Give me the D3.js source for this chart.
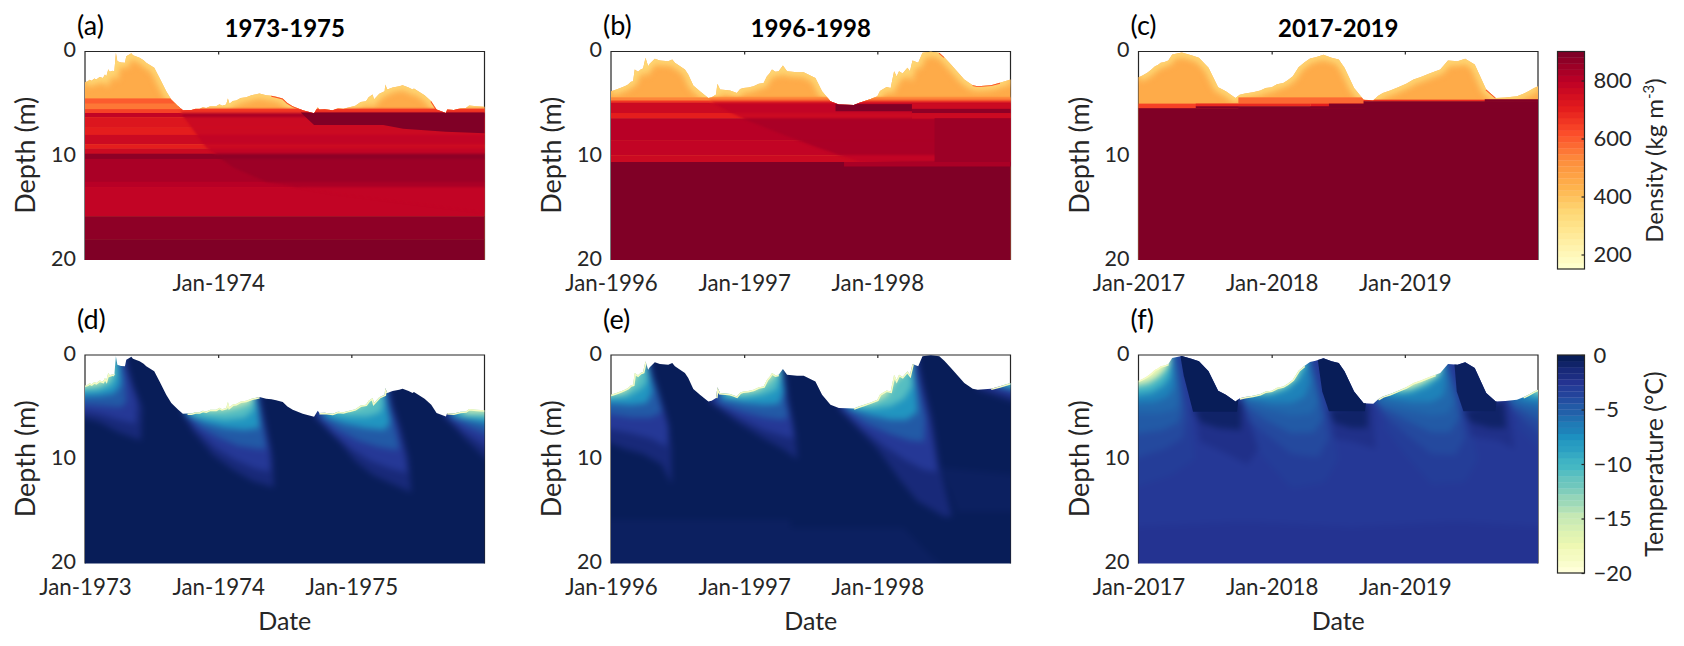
<!DOCTYPE html>
<html><head><meta charset="utf-8">
<script src="https://cdn.jsdelivr.net/npm/d3@7"></script>
<style>html,body{margin:0;padding:0;background:#fff}svg{display:block}text{font-family:Lato,"Open Sans",sans-serif}</style>
</head><body>
<svg id="chart" width="1684" height="646"></svg>
<script>
// ---------- axis content
const yTicks=[0,10,20];
const labelsRow1=[[1974],[1996,1997,1998],[2017,2018,2019]];
const labelsRow2=[[1973,1974,1975],[1996,1997,1998],[2017,2018,2019]];
const tickYearsRow1=[[1974],[1997,1998],[2018,2019]];
const tickYearsRow2=[[1974,1975],[1997,1998],[2018,2019]];
const startYears=[1973,1996,2017];
const titles=["1973-1975","1996-1998","2017-2019"];
const letters=["(a)","(b)","(c)","(d)","(e)","(f)"];
const densityStops=["#ffffcc","#ffeda0","#fed976","#feb24c","#fd8d3c","#fc4e2a","#e31a1c","#bd0026","#800026"];
const tempStops=["#ffffd9","#edf8b1","#c7e9b4","#7fcdbb","#41b6c4","#1d91c0","#225ea8","#253494","#081d58"];
const densityTicks=[200,400,600,800];
const tempTicks=[0,-5,-10,-15,-20];

// ---------- snow surface [years since start, depth m]
const surfaceA=[[0,2.94],[.02,2.85],[.035,2.7],[.05,2.8],[.07,2.6],[.085,2.69],[.11,2.45],[.135,2.55],[.15,2.2],[.16,2.4],[.175,1.7],[.185,1.95],[.21,1.85],[.22,1.95],[.232,.13],[.243,.93],[.27,1.05],[.30,1.09],[.31,.45],[.33,.3],[.348,.16],[.36,.35],[.385,.47],[.41,.61],[.44,.85],[.46,1.09],[.52,1.57],[.56,2.53],[.61,3.81],[.648,4.61],[.70,5.25],[.735,5.63],[.77,5.6],[.80,5.6],[.83,5.5],[.86,5.5],[.885,5.35],[.91,5.41],[.94,5.25],[.985,5.25],[1.01,5.05],[1.03,5.2],[1.06,5.09],[1.073,4.51],[1.085,5.02],[1.11,4.75],[1.135,4.7],[1.17,4.45],[1.21,4.38],[1.25,4.2],[1.31,4.03],[1.36,4.19],[1.40,4.25],[1.435,4.35],[1.485,4.51],[1.52,4.95],[1.56,5.25],[1.635,5.63],[1.72,5.92],[1.748,5.34],[1.76,5.57],[1.80,5.55],[1.86,5.63],[1.90,5.45],[1.94,5.5],[1.985,5.34],[2.03,5.2],[2.07,4.85],[2.11,4.77],[2.13,4.4],[2.16,4.13],[2.17,4.61],[2.21,4.05],[2.25,3.81],[2.255,3.17],[2.27,3.65],[2.31,3.45],[2.36,3.33],[2.385,3.23],[2.43,3.45],[2.46,3.65],[2.47,3.55],[2.55,4.19],[2.60,4.77],[2.64,5.57],[2.71,5.89],[2.72,5.57],[2.77,5.6],[2.82,5.45],[2.86,5.41],[2.885,5.18],[2.94,5.25],[3,5.31]];
const surfaceB=[[0,3.81],[.04,3.65],[.07,3.5],[.103,3.33],[.128,3.17],[.15,2.9],[.166,2.85],[.178,1.73],[.203,1.95],[.225,1.7],[.241,1.63],[.259,.61],[.279,1.41],[.291,1.18],[.329,.70],[.367,.86],[.43,.93],[.46,.77],[.48,1.09],[.555,1.73],[.58,2.21],[.618,3.26],[.668,3.81],[.731,4.45],[.756,4.38],[.789,4.13],[.799,3.10],[.819,3.65],[.86,3.7],[.894,3.74],[.92,3.85],[.945,3.97],[.97,3.6],[.995,3.49],[1.03,3.45],[1.07,3.33],[1.11,3.1],[1.146,3.01],[1.171,2.37],[1.19,2.1],[1.209,1.73],[1.235,1.95],[1.259,1.89],[1.291,1.34],[1.322,1.89],[1.397,1.98],[1.447,1.98],[1.535,2.53],[1.585,3.81],[1.648,4.77],[1.711,5.09],[1.824,5.12],[1.86,4.95],[1.90,4.77],[1.95,4.55],[2.0,4.29],[2.02,3.8],[2.038,3.65],[2.07,3.4],[2.10,3.49],[2.126,1.89],[2.145,2.4],[2.163,1.89],[2.19,2.1],[2.226,1.57],[2.245,1.9],[2.264,.86],[2.307,1.09],[2.339,.13],[2.402,.03],[2.465,.13],[2.503,.54],[2.553,1.25],[2.653,2.69],[2.716,3.23],[2.754,3.33],[2.854,3.23],[2.92,3.0],[3,2.69]];
const surfaceC=[[0,2.46],[.03,2.3],[.066,2.05],[.095,1.75],[.124,1.41],[.145,1.3],[.167,1.09],[.195,1.0],[.224,.86],[.253,.29],[.325,.10],[.397,.35],[.454,.61],[.526,1.57],[.598,3.42],[.656,3.81],[.728,4.45],[.76,4.15],[.80,4.03],[.86,3.9],[.915,3.74],[.955,3.5],[1.0,3.42],[1.04,3.15],[1.087,3.01],[1.12,2.75],[1.159,2.37],[1.202,1.5],[1.245,1.05],[1.288,.67],[1.33,.55],[1.389,.32],[1.45,.6],[1.504,.77],[1.547,1.57],[1.619,3.49],[1.691,4.64],[1.763,4.67],[1.80,4.25],[1.835,3.97],[1.89,3.75],[1.95,3.42],[2.01,3.1],[2.065,2.69],[2.12,2.45],[2.18,2.14],[2.23,1.9],[2.266,1.73],[2.324,.86],[2.396,.93],[2.453,.70],[2.525,1.25],[2.611,3.65],[2.683,4.45],[2.755,4.42],[2.842,4.29],[2.89,4.05],[2.928,3.81],[2.97,3.5],[3,3.33]];

// ---------- density: ice bands [top, bottom, density before front, density after front]
const bandsA=[[5.5,5.95,640,660],[5.9,6.3,790,830],[6.3,7.3,715,770],[7.3,8.0,708,760],[8.0,8.9,770,785],[8.9,9.3,710,770],[9.3,9.8,770,790],[9.8,10.3,875,875],[10.3,12.5,828,850],[12.5,13.0,812,835],[13,15.8,785,795],[15.8,18,860,865],[18,20.5,895,895]];
const bandsB=[[4.4,4.7,530,540],[4.7,4.9,650,690],[4.9,5.9,765,780],[5.9,6.4,705,770],[6.4,8.5,800,825],[8.5,9.95,780,820],[9.95,10.6,770,790],[10.6,20.5,897,897]];
const bandsC=[[5.41,20.5,897,897]];
const frontA=[[.72,5.9],[.91,9.2],[1.11,11.1],[1.36,12.5],[1.86,13.6],[3.05,15.5]];
const frontB=[[.74,4.8],[1.0,6.5],[1.3,8],[1.55,9.2],[1.87,10.6],[3.05,11]];
const frontC=[[0,0],[3.05,0]];
// local patches [t0, t1, top, bottom, density]
const patchesA=[[-.05,.74,4.5,5.0,595],[-.05,.74,5.0,5.5,560]];
const patchesB=[[1.686,2.26,5.05,5.7,895],[2.26,3.05,5.0,5.5,760],[2.26,3.05,5.5,5.9,870],[2.26,3.05,5.9,6.4,770],[2.43,3.05,6.4,10.9,850],[1.75,3.05,10.6,11,825]];
const patchesC=[[-.05,.75,5.0,5.41,640],[.75,1.7,4.4,5.0,585],[.43,1.29,5.0,5.25,680],[1.29,1.7,5.0,5.4,700],[1.43,1.7,5.0,5.41,897],[.43,3.05,5.25,5.41,897],[1.69,3.05,4.62,4.77,690],[1.69,3.05,4.77,5.3,897],[2.6,3.05,4.58,4.8,897]];
// dense wedges [density, outline]
const wedgesA=[[893,[[1.62,5.85],[1.72,7.05],[2.24,7.05],[2.39,7.4],[2.71,7.7],[3.05,7.87],[3.05,5.85]]]];
const wedgesB=[],wedgesC=[];
// melting-surface stretches drawn redder [t0,t1]
const meltA=[[.65,.74],[1.4,1.7],[2.6,2.7]];
const meltB=[[1.45,1.53],[2.46,2.55],[2.7,2.95]];
const meltC=[[.4,.48],[1.42,1.5],[2.6,2.72]];

// ---------- temperature: isotherm outlines [T, [[t,depth],...]]
const isothermsD=[
[-1.5,[[-.05,5.9],[.1,6.4],[.25,7.4],[.42,8.2],[.43,5],[.36,2.8],[.31,.5]]],
[-3,[[-.05,5.3],[.12,5.7],[.25,6.2],[.38,6.6],[.39,4.5],[.34,2.5],[.30,1]]],
[-5,[[-.05,4.7],[.15,4.9],[.27,5.0],[.31,4.5],[.30,2.5],[.28,.5]]],
[-8,[[-.05,4.0],[.12,3.9],[.22,3.7],[.27,2.8],[.26,1],[.25,.3]]],
[-11,[[-.05,3.5],[.1,3.4],[.2,2.9],[.235,2],[.23,.3]]],
[-15,[[-.05,3.15],[.1,2.9],[.17,2.4],[.19,1.9],[.19,.3]]],
[-1.5,[[.735,5.6],[.81,7.3],[.96,9.6],[1.11,11],[1.26,12.1],[1.42,12.7],[1.41,9.9],[1.36,6.7],[1.32,4.3]]],
[-3,[[.74,5.6],[.83,7.1],[.98,8.9],[1.12,10],[1.28,10.9],[1.39,11.2],[1.385,9],[1.34,6.5],[1.31,4.3]]],
[-5,[[.75,5.7],[.86,6.9],[1.0,7.9],[1.15,8.7],[1.3,9.0],[1.36,9.0],[1.34,7],[1.31,5],[1.30,4.2]]],
[-8,[[.76,5.7],[.9,6.5],[1.05,7],[1.2,7.2],[1.31,7],[1.30,5],[1.28,4]]],
[-11,[[.8,5.8],[.92,6.0],[1.05,6.2],[1.2,6],[1.27,5.2],[1.27,4]]],
[-15,[[.9,5.4],[1.05,5.3],[1.15,5],[1.24,4.6],[1.26,4.2]]],
[-1.5,[[1.72,5.9],[1.81,7],[1.91,8.3],[2.03,10.2],[2.16,11.5],[2.31,12.4],[2.45,13.2],[2.43,9.9],[2.37,7],[2.31,4.8],[2.29,3.5]]],
[-3,[[1.74,5.9],[1.85,7.4],[2,9],[2.15,10.2],[2.3,10.9],[2.42,11.3],[2.4,9.5],[2.35,7],[2.3,5],[2.28,3.5]]],
[-5,[[1.76,5.9],[1.9,7.2],[2.05,8.2],[2.2,8.8],[2.33,9.1],[2.36,9],[2.32,6.5],[2.28,4.5],[2.27,3.5]]],
[-8,[[1.8,5.9],[1.95,6.6],[2.1,7.0],[2.25,7.2],[2.29,6.5],[2.27,5],[2.25,3.5]]],
[-11,[[1.85,5.7],[2,5.9],[2.12,5.9],[2.22,5.5],[2.24,4.5],[2.23,3.3]]],
[-15,[[1.95,5.3],[2.05,5.0],[2.12,4.5],[2.19,3.9]]],
[-1.5,[[2.69,5.9],[2.76,6.7],[2.86,8.1],[3.05,10.4]]],
[-3,[[2.72,6],[2.85,7.4],[3.05,9.1]]],
[-5,[[2.74,6],[2.9,7],[3.05,7.8]]],
[-8,[[2.75,5.8],[2.9,6.3],[3.05,6.7]]],
[-11,[[2.8,5.9],[3.05,6.1]]],
[-15,[[2.85,5.6],[3.05,5.6]]]];
const deepE=[
[-.5,[[-.05,15.8],[1.35,15.8],[1.35,16.6],[2.2,16.6],[2.38,19],[2.52,20.6],[-.05,20.6]]],
[-.5,[[2.47,10.8],[3.05,11.5],[3.05,15],[2.6,15],[2.5,11.5]]]];
const isothermsE=[
[-1.5,[[-.05,8.2],[.1,9],[.24,9.5],[.38,10.5],[.455,12.4],[.455,9],[.43,6.5],[.39,4.8],[.32,2],[.3,.8]]],
[-3,[[-.05,7],[.15,7.5],[.3,8],[.42,8.8],[.43,7],[.39,5],[.32,2.5],[.29,.8]]],
[-5,[[-.05,5.6],[.15,6],[.3,6],[.38,5.5],[.35,3.5],[.3,1.7],[.285,.8]]],
[-8,[[-.05,4.6],[.15,4.8],[.27,4.6],[.31,3.5],[.29,1.8],[.27,.8]]],
[-11,[[-.05,4.2],[.12,4],[.22,3.3],[.27,2.6],[.27,.8]]],
[-15,[[-.05,3.9],[.1,3.6],[.15,3],[.2,1.8],[.26,.6]]],
[-1.5,[[.74,4.45],[.945,6.4],[1.146,8],[1.3,9.1],[1.40,10],[1.385,7.6],[1.335,4.45],[1.3,1.5]]],
[-3,[[.76,4.5],[.96,6],[1.15,7.2],[1.3,7.8],[1.37,8],[1.36,6.5],[1.32,4.2],[1.3,1.5]]],
[-5,[[.8,4.6],[1,5.5],[1.15,6],[1.28,6.2],[1.33,6],[1.31,4.2],[1.29,1.5]]],
[-8,[[.83,4.2],[1,4.6],[1.15,4.8],[1.26,4.7],[1.3,3.5],[1.28,1.5]]],
[-11,[[.85,3.95],[1,4.1],[1.15,3.8],[1.24,3.3],[1.275,2],[1.27,1.4]]],
[-15,[[.9,3.75],[1,3.6],[1.1,3.4],[1.18,2.6],[1.24,1.9]]],
[-1.4,[[1.71,5.1],[1.85,7],[2,9],[2.17,12],[2.3,14],[2.5,15.5],[2.56,15.5],[2.47,10.8],[2.41,6],[2.34,2.5],[2.31,.8]]],
[-3,[[1.72,5.1],[1.88,7],[2.05,8.7],[2.2,10],[2.35,11],[2.45,11.2],[2.4,7],[2.33,3],[2.3,.9]]],
[-5,[[1.75,5.1],[1.92,6.6],[2.1,7.6],[2.25,8.2],[2.35,8.3],[2.36,6],[2.3,2.5],[2.28,.9]]],
[-8,[[1.78,5.1],[1.95,5.8],[2.1,6.2],[2.22,6.2],[2.3,5.5],[2.29,3.5],[2.27,1]]],
[-11,[[1.82,5],[1.98,5.1],[2.1,4.9],[2.2,4.2],[2.26,3],[2.26,1]]],
[-15,[[1.88,4.8],[1.98,4.5],[2.07,3.9],[2.13,2.6],[2.2,1.8],[2.24,1]]],
[-1.5,[[2.75,3.3],[3.05,4.6]]],
[-3,[[2.8,3.1],[3.05,4.1]]],
[-8,[[2.9,3],[3.05,3.4]]],
[-11,[[2.95,2.8],[3.05,3]]]];
const deepF=[[-2.8,[[-.05,-1],[-.05,16.5],[.8,16],[1.6,16.5],[2.4,16],[3.05,16.5],[3.05,-1]]]];
const isothermsF=[
[-3.2,[[-.05,12.8],[.25,11.5],[.42,10],[.40,6],[.35,3],[.31,.3]]],
[-3.9,[[-.05,10],[.2,9],[.33,8],[.36,6],[.33,3],[.30,.3]]],
[-4.7,[[-.05,7.6],[.18,7.2],[.3,6.5],[.33,5],[.3,2],[.28,.3]]],
[-5.5,[[-.05,5.6],[.15,5.6],[.28,5.2],[.31,4],[.29,1.5],[.27,.3]]],
[-7,[[-.05,4.6],[.12,4.5],[.22,4],[.27,3],[.26,1],[.25,.5]]],
[-10,[[-.05,3.9],[.1,3.6],[.19,2.9],[.24,2],[.245,.5]]],
[-14,[[-.05,3.1],[.08,2.8],[.15,2.2],[.21,1.4],[.23,.7]]],
[-17.5,[[-.05,2.9],[.08,2.4],[.15,1.9],[.2,1.2],[.23,.8]]],
[-3.2,[[.8,7.5],[.95,10],[1.15,12.8],[1.4,12.2],[1.5,10],[1.45,6],[1.37,3],[1.31,.5]]],
[-3.9,[[.8,6],[.95,7.5],[1.15,9.5],[1.35,9.8],[1.43,8],[1.38,4.5],[1.33,2],[1.3,.5]]],
[-4.7,[[.79,4.8],[.95,6.2],[1.15,7.5],[1.32,7.4],[1.39,6],[1.34,3],[1.3,.6]]],
[-5.5,[[.78,4.4],[.95,5.2],[1.15,5.8],[1.3,5.6],[1.35,4.5],[1.31,2],[1.28,.6]]],
[-7,[[.8,4.1],[1,4.6],[1.15,4.6],[1.25,4],[1.29,2.5],[1.27,.7]]],
[-10,[[.82,3.9],[1,3.8],[1.12,3.3],[1.2,2.4],[1.26,1]]],
[-14,[[.9,3.7],[1,3.4],[1.08,3.0],[1.15,2.4],[1.2,1.5],[1.23,.9]]],
[-17.5,[[.95,3.55],[1.05,3.2],[1.12,2.7],[1.18,2.1]]],
[-3.2,[[1.85,7],[2,9.5],[2.2,12.4],[2.45,12.2],[2.55,10],[2.48,6],[2.4,3],[2.33,.8]]],
[-3.9,[[1.82,5.5],[2,7.5],[2.2,9.5],[2.38,9.6],[2.45,8],[2.42,5],[2.37,3],[2.32,.9]]],
[-4.7,[[1.8,4.9],[2,6.2],[2.2,7.4],[2.34,7.4],[2.41,6],[2.38,3.5],[2.32,.9]]],
[-5.5,[[1.78,4.6],[2,5.3],[2.2,5.8],[2.32,5.6],[2.37,4.5],[2.34,2.5],[2.31,.9]]],
[-7,[[1.85,4.1],[2.05,4.5],[2.2,4.5],[2.29,3.9],[2.31,2.5],[2.3,1]]],
[-10,[[1.88,3.8],[2.05,3.6],[2.18,3],[2.26,2.1],[2.28,1.2]]],
[-14,[[1.95,3.5],[2.05,3.2],[2.15,2.6],[2.22,2],[2.27,1.6]]],
[-17.5,[[2.0,3.2],[2.1,2.8],[2.18,2.3],[2.24,2]]],
[-3.2,[[2.85,7],[3.05,9.5]]],
[-3.9,[[2.8,5.2],[3.05,8]]],
[-4.7,[[2.79,4.7],[3.05,6.6]]],
[-5.5,[[2.78,4.5],[3.05,5.5]]],
[-7,[[2.85,4.3],[3.05,4.8]]],
[-10,[[2.92,4],[3.05,4]]],
[-14,[[2.97,3.7],[3.05,3.6]]]];
// warm plumes below the summer wet snow in (f), soft then sharp
const warmSoftF=[
[-2.2,[[.42,5],[.46,8.3],[.62,9.2],[.82,10.5],[.90,9],[.78,4.4]]],
[-1,[[.41,5.2],[.47,6.5],[.6,7],[.77,7.2],[.77,4.4]]],
[-2.2,[[1.43,5],[1.47,8],[1.6,8.3],[1.78,9],[1.76,4.6]]],
[-1,[[1.43,5.3],[1.47,6.5],[1.6,7],[1.72,7],[1.72,4.6]]],
[-2.2,[[2.44,5],[2.5,7.8],[2.7,8.2],[2.82,9],[2.78,4.4]]],
[-1,[[2.44,5.4],[2.5,6.5],[2.65,7],[2.76,7],[2.74,4.4]]]];
const warmSharpF=[
[0,[[.30,-1],[.34,2],[.41,5.45],[.74,5.45],[.75,4.3],[.6,-1]]],
[0,[[1.33,-1],[1.38,3.5],[1.43,5.4],[1.7,5.4],[1.71,4.5],[1.5,-1]]],
[-.4,[[2.37,.5],[2.39,3.5],[2.44,5.4],[2.68,5.4],[2.69,4.4],[2.5,-1]]]];
// winter stretches with pale fresh snow [t0,t1]
const coldSkinD=[[-.01,.23],[.76,1.31],[1.75,2.28],[2.72,3.01]];
const coldSkinE=[[-.01,.27],[.76,1.28],[1.72,2.27],[2.85,3.01]];
const coldSkinF=[[-.01,.25],[.74,1.25],[1.78,2.26],[2.85,3.01]];
const baseTemp=[0,0,-2.4];

// ---------- geometry
const plotLefts=[85,611,1138.5], plotW=399.5;
const rowTops=[51.5,355], plotH=208.5;
const cbX=1557.5,cbW=27;
const cbBoxes=[[51.5,269],[355,573]];
const ink="#262626";

const svg=d3.select("#chart");
const defs=svg.append("defs");
[["soft",3],["skin",3],["fine",.5],["diag",1.3]].forEach(([id,s])=>{
  defs.append("filter").attr("id",id).attr("filterUnits","userSpaceOnUse").attr("x",0).attr("y",0).attr("width",1684).attr("height",646)
   .attr("color-interpolation-filters","sRGB").append("feGaussianBlur").attr("stdDeviation",s);
});
const stepped=(stops,lo,hi,n)=>{
  const c=d3.scaleLinear().domain(d3.range(stops.length).map(i=>lo+(hi-lo)*i/(stops.length-1))).range(stops).clamp(true);
  return d3.scaleQuantize().domain([lo,hi]).range(d3.range(n).map(i=>c(lo+(hi-lo)*i/(n-1))));
};
const rhoColor=stepped(densityStops,150,900,36);
const tColor=stepped(tempStops,-20,0,60);

function frame(g,x,y,tickYears){
  const X=x.range(),Y=y.range();
  g.append("path").attr("d",`M${X[0]},${Y[1]}V${Y[0]}H${X[1]}V${Y[1]}`).attr("fill","none").attr("stroke",ink).attr("stroke-width",1.2);
  const top=g.append("g").attr("transform",`translate(0,${Y[0]})`).call(d3.axisBottom(x).tickValues(tickYears).tickSize(3).tickFormat(""));
  top.select(".domain").remove(); top.selectAll("line").attr("stroke",ink).attr("stroke-width",1.2);
}
function labels(g,x,y,years){
  const Y=y.range();
  const ax=g.append("g").attr("transform",`translate(${x.range()[0]},-1.5)`).call(d3.axisLeft(y).tickValues(yTicks).tickSize(0).tickPadding(9));
  ax.select(".domain").remove();
  ax.selectAll("text").attr("font-size",21.5).attr("fill",ink).attr("font-family","Lato");
  const bx=g.append("g").attr("transform",`translate(0,${Y[1]})`).call(d3.axisBottom(x).tickValues(years).tickSize(0).tickPadding(15.5).tickFormat(d=>"Jan-"+d));
  bx.select(".domain").remove();
  bx.selectAll("text").attr("font-size",22.3).attr("fill",ink).attr("font-family","Lato");
  g.append("text").attr("transform",`translate(${x.range()[0]-50},${(Y[0]+Y[1])/2-.5}) rotate(-90)`).attr("text-anchor","middle").attr("font-size",27).attr("fill",ink).text("Depth (m)");
}
function region(g,id,x,y,surface){
  const a=d3.area().x(p=>x(p[0])).y0(y(20)).y1(p=>y(p[1]));
  defs.append("clipPath").attr("id",id).append("path").attr("d",a(surface));
  return g.append("g").attr("clip-path",`url(#${id})`);
}
const poly=(x,y)=>d3.line().x(p=>x(p[0])).y(p=>y(p[1]));
const upTo=pts=>[[pts[0][0],-1],...pts,[pts[pts.length-1][0],-1]];

function densityPanel(i,surface,bands,front,patches,wedges,melt){
  const yr0=startYears[i];
  const x=d3.scaleLinear().domain([0,3]).range([plotLefts[i],plotLefts[i]+plotW]);
  const y=d3.scaleLinear().domain([0,20]).range([rowTops[0],rowTops[0]+plotH]);
  const g=svg.append("g");
  const xy=d3.scaleLinear().domain([yr0,yr0+3]).range(x.range());
  frame(g,xy,y,tickYearsRow1[i]);
  const c=region(g,"surfD"+i,x,y,surface);
  const line=poly(x,y);
  c.append("rect").attr("x",x(0)-5).attr("y",y(-1)).attr("width",plotW+10).attr("height",plotH+20).attr("fill",rhoColor(450));
  c.append("g").attr("filter","url(#skin)").append("path").attr("d",line(surface)).attr("fill","none").attr("stroke",rhoColor(350)).attr("stroke-width",9);
  melt.forEach(([a,b])=>{
    c.append("path").attr("d",line(surface.filter(p=>p[0]>=a&&p[0]<=b))).attr("fill","none").attr("stroke",rhoColor(610)).attr("stroke-width",1.8).attr("filter","url(#fine)");
  });
  const drawBands=(parent,k)=>parent.selectAll(null).data(bands).join("rect")
     .attr("x",x(-.05)).attr("width",x(3.05)-x(-.05)).attr("y",b=>y(b[0])).attr("height",b=>y(b[1])-y(b[0])+.3).attr("fill",b=>rhoColor(b[k]));
  drawBands(c.append("g"),2);
  const clipId="late"+i;
  defs.append("clipPath").attr("id",clipId).append("path").attr("d",line([...front,[3.05,-1],[front[0][0],-1]]));
  drawBands(c.append("g").attr("filter","url(#diag)").append("g").attr("clip-path",`url(#${clipId})`),3);
  c.append("g").selectAll("rect").data(patches).join("rect")
     .attr("x",p=>x(p[0])).attr("width",p=>x(p[1])-x(p[0])).attr("y",p=>y(p[2])).attr("height",p=>y(p[3])-y(p[2])+.3).attr("fill",p=>rhoColor(p[4]));
  c.append("g").selectAll("path").data(wedges).join("path").attr("d",d=>line(d[1])).attr("fill",d=>rhoColor(d[0]));
  labels(g,xy,y,labelsRow1[i]);
  g.append("text").attr("x",(x.range()[0]+x.range()[1])/2).attr("y",37).attr("text-anchor","middle").attr("font-size",24).attr("font-weight",700).attr("fill","#000").text(titles[i]);
  g.append("text").attr("x",x.range()[0]-8).attr("y",34.5).attr("font-size",27).attr("fill","#000").text(letters[i]);
}
function tempPanel(i,surface,deep,iso,skin,warmSoft,warmSharp){
  const yr0=startYears[i];
  const x=d3.scaleLinear().domain([0,3]).range([plotLefts[i],plotLefts[i]+plotW]);
  const y=d3.scaleLinear().domain([0,20]).range([rowTops[1],rowTops[1]+plotH]);
  const g=svg.append("g");
  const xy=d3.scaleLinear().domain([yr0,yr0+3]).range(x.range());
  frame(g,xy,y,tickYearsRow2[i]);
  const c=region(g,"surfT"+i,x,y,surface);
  const line=poly(x,y);
  const soft=c.append("g").attr("filter","url(#soft)");
  soft.append("rect").attr("x",x(0)-20).attr("y",y(-2)).attr("width",plotW+40).attr("height",plotH+60).attr("fill",tColor(baseTemp[i]));
  soft.selectAll(null).data(deep).join("path").attr("d",d=>line(d[1])).attr("fill",d=>tColor(d[0]));
  soft.selectAll(null).data(d3.sort(iso,(a,b)=>b[0]-a[0])).join("path").attr("d",d=>line(upTo(d[1]))).attr("fill",d=>tColor(d[0]));
  soft.selectAll(null).data(warmSoft).join("path").attr("d",d=>line(d[1])).attr("fill",d=>tColor(d[0]));
  c.append("g").attr("filter","url(#fine)").selectAll("path").data(warmSharp).join("path").attr("d",d=>line(d[1])).attr("fill",d=>tColor(d[0]));
  skin.forEach(([a,b])=>{
    c.append("path").attr("d",line(surface.filter(p=>p[0]>=a&&p[0]<=b))).attr("fill","none").attr("stroke",tColor(-18.5)).attr("stroke-width",3).attr("filter","url(#fine)");
  });
  labels(g,xy,y,labelsRow2[i]);
  g.append("text").attr("x",x.range()[0]-8).attr("y",329).attr("font-size",27).attr("fill","#000").text(letters[i+3]);
  g.append("text").attr("x",(x.range()[0]+x.range()[1])/2).attr("y",630).attr("text-anchor","middle").attr("font-size",25).attr("fill",ink).text("Date");
}
densityPanel(0,surfaceA,bandsA,frontA,patchesA,wedgesA,meltA);
densityPanel(1,surfaceB,bandsB,frontB,patchesB,wedgesB,meltB);
densityPanel(2,surfaceC,bandsC,frontC,patchesC,wedgesC,meltC);
tempPanel(0,surfaceA,[],isothermsD,coldSkinD,[],[]);
tempPanel(1,surfaceB,deepE,isothermsE,coldSkinE,[],[]);
tempPanel(2,surfaceC,deepF,isothermsF,coldSkinF,warmSoftF,warmSharpF);

function colorbar(box,lo,hi,color,ticks,n){
  const y=d3.scaleLinear().domain([hi,lo]).range(box);
  const g=svg.append("g");
  const step=(hi-lo)/n;
  g.selectAll("rect").data(d3.range(n)).join("rect").attr("x",cbX).attr("width",cbW)
    .attr("y",k=>y(lo+(k+1)*step)).attr("height",(box[1]-box[0])/n+.3).attr("fill",k=>color(lo+(k+.5)*step));
  g.append("rect").attr("x",cbX).attr("y",box[0]).attr("width",cbW).attr("height",box[1]-box[0]).attr("fill","none").attr("stroke",ink).attr("stroke-width",1.2);
  const ax=g.append("g").attr("transform",`translate(${cbX+cbW},0)`).call(d3.axisRight(y).tickValues(ticks).tickSize(-3).tickPadding(9));
  ax.select(".domain").remove();
  ax.selectAll("line").attr("stroke",ink).attr("stroke-width",1.2);
  ax.selectAll("text").attr("font-size",22).attr("fill",ink).attr("font-family","Lato");
}
colorbar(cbBoxes[0],150,900,rhoColor,densityTicks,36);
colorbar(cbBoxes[1],-20,0,tColor,tempTicks,36);
const d1=svg.append("text").attr("transform",`translate(1663,160.5) rotate(-90)`).attr("text-anchor","middle").attr("font-size",24).attr("fill",ink);
d1.append("tspan").text("Density (kg m");
d1.append("tspan").attr("font-size",15).attr("dy",-9).text("-3");
d1.append("tspan").attr("dy",9).text(")");
svg.append("text").attr("transform",`translate(1663,464) rotate(-90)`).attr("text-anchor","middle").attr("font-size",25).attr("fill",ink).text("Temperature (°C)");
</script>
</body></html>
